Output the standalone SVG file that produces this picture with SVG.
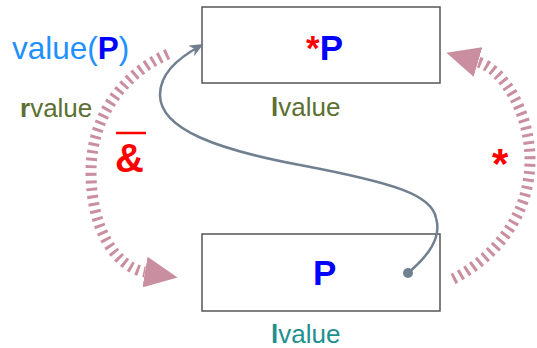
<svg xmlns="http://www.w3.org/2000/svg" width="537" height="348" viewBox="0 0 537 348">
<style>
.box{fill:#fff;stroke:#555;stroke-width:1.5}
.arc{fill:none;stroke:#c98e9f;stroke-width:11;stroke-dasharray:3 4.5}
.link{fill:none;stroke:#708090;stroke-width:2.5}
text{font-family:"Liberation Sans",Arial,sans-serif}
.big{font-size:35px;font-weight:bold}
.lbl{font-size:26px}
.b{font-weight:bold}
</style>
<defs>
<marker id="pinkArrow" markerUnits="userSpaceOnUse" viewBox="0 0 33 31" markerWidth="33" markerHeight="31" refX="0" refY="15.5" orient="auto">
<path d="M0,0 L33,15.5 L0,31 Z" fill="#c98e9f"/>
</marker>
<marker id="grayArrow" markerUnits="userSpaceOnUse" viewBox="0 0 14 12" markerWidth="14" markerHeight="12" refX="10" refY="6" orient="auto">
<path d="M0,0 L14,6 L0,12 L4,6 Z" fill="#708090"/>
</marker>
</defs>
<g id="nodeTop">
<rect class="box" x="202" y="7" width="238" height="76"/>
<text x="306" y="60" class="big"><tspan fill="#ff0000">*</tspan><tspan fill="#0000ff">P</tspan></text>
<text x="271" y="116" class="lbl" fill="#5b7031"><tspan class="b">l</tspan>value</text>
</g>
<g id="nodeBottom">
<rect class="box" x="202" y="234" width="238" height="77"/>
<text x="313" y="285" class="big" fill="#0000ff">P</text>
<text x="271" y="343" class="lbl" fill="#1e9090"><tspan class="b">l</tspan>value</text>
</g>
<g id="connectors">
<path class="arc" d="M168,54 C120,75 91,120 91,172 C91,228 115,267 145,272" marker-end="url(#pinkArrow)"/>
<path class="arc" d="M453,279 C495,258 530,215 530,160 C530,115 505,70 478,62" marker-end="url(#pinkArrow)"/>
<path class="link" d="M408,273 C428,256 442,238 436,218 C432,195 395,183 300,165 C220,150 160,130 160,95 C160,75 175,60 200,46" marker-end="url(#grayArrow)"/>
<circle cx="408" cy="273" r="5" fill="#708090"/>
</g>
<g id="labels">
<text x="12" y="59" font-size="31.5" fill="#1e90ff">value(<tspan class="b" fill="#0000ff">P</tspan>)</text>
<text x="20" y="117" class="lbl" fill="#5b7031"><tspan class="b">r</tspan>value</text>
<line x1="116" y1="133" x2="146" y2="133" stroke="#ff0000" stroke-width="2.5"/>
<text x="115" y="172" font-size="40" class="b" fill="#ff0000">&amp;</text>
<text x="492" y="178" font-size="42" class="b" fill="#ff0000">*</text>
</g>
</svg>
